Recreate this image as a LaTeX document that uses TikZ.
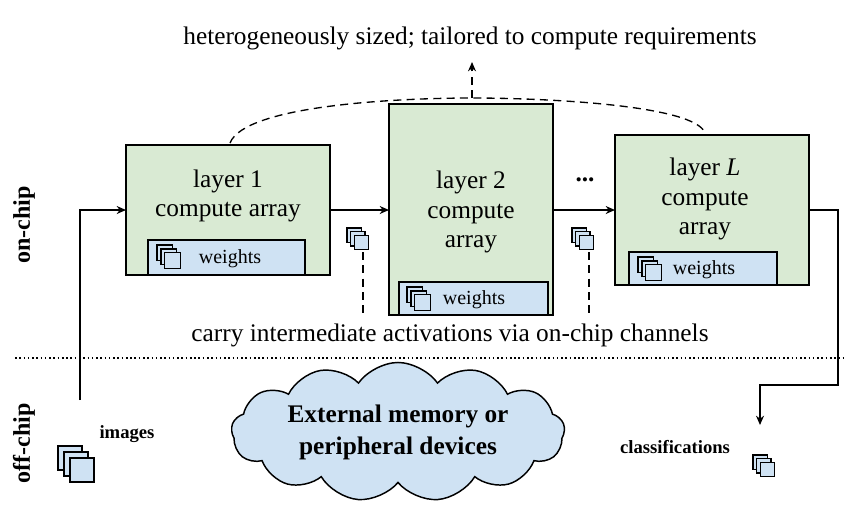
\documentclass[tikz,border=0pt]{standalone}
\usepackage{fontspec}
\setmainfont{Liberation Serif}
\usetikzlibrary{shapes.symbols,arrows.meta}
\definecolor{gfill}{HTML}{D9EAD3}
\definecolor{bfill}{HTML}{CFE2F3}
\begin{document}
\begin{tikzpicture}[x=0.75pt,y=-0.75pt,
  layer/.style={draw,line width=1.1pt,fill=gfill},
  wbox/.style={draw,line width=1.1pt,fill=bfill},
  lab/.style={font=\fontsize{19}{22}\selectfont,align=center},
  wl/.style={font=\fontsize{15}{17}\selectfont},
  dsh/.style={dash pattern=on 6pt off 4pt,line width=1pt},
  arr/.style={line width=1pt,-{Stealth[length=7pt,width=6pt]}},
  stack/.pic={\foreach \d in {0,3,6}{\draw[fill=bfill,line width=0.9pt] (\d*#1,\d*#1) rectangle ++(12*#1,12*#1);}}]
\useasboundingbox (0,0) rectangle (862,512);
% top text
\node[lab] (top) at (470,38) {heterogeneously sized; tailored to compute requirements};
% boxes
\draw[layer] (126,145) rectangle (330,275);
\node[lab] (t1) at (228,196) {layer 1\\compute array};
\draw[wbox] (148,240) rectangle (305,275);
\pic at (157,245) {stack=1.3};
\node[wl] (w1) at (230,259) {weights};
\draw[layer] (389,104) rectangle (553,315);
\node[lab] (t2) at (471,212) {layer 2\\compute\\array};
\draw[wbox] (399,282) rectangle (548,315);
\pic at (407,287) {stack=1.3};
\node[wl] (w2) at (474,300) {weights};
\draw[layer] (615,135) rectangle (809,285);
\node[lab] (t3) at (705,199) {layer \textit{L}\\compute\\array};
\draw[wbox] (629,252) rectangle (777,285);
\pic at (638,257) {stack=1.3};
\node[wl] (w3) at (704,270) {weights};
\node[font=\bfseries\fontsize{19}{20}\selectfont] (dots) at (585,180) {...};
% connectors
\coordinate (in0) at (80,400); \coordinate (in1) at (80,210);
\draw[arr] (in0) -- (in1) -- (126,210);
\draw[arr] (330,210) -- (389,210);
\draw[arr] (553,210) -- (615,210);
\coordinate (o1) at (838,210); \coordinate (o2) at (838,385); \coordinate (o3) at (760,385); \coordinate (o4) at (760,425);
\draw[arr] (809,210) -- (o1) -- (o2) -- (o3) -- (o4);
% activation icons
\pic at (347,228) {stack=1.2};
\pic at (572,228) {stack=1.2};
\draw[dsh] (363,252) -- (363,315);
\draw[dsh] (589,252) -- (589,315);
\node[lab] (carry) at (450,335) {carry intermediate activations via on-chip channels};
% dashed curve
\draw[dsh] (230,143) .. controls (245,105) and (400,98) .. (472,98) .. controls (545,98) and (695,105) .. (705,133);
\draw[dsh,-{Stealth[length=7pt,width=6pt]}] (472,98) -- (472,62);
% separator
\draw[dotted,line width=1.2pt] (15,358) -- (845,358);
\node[rotate=90,font=\bfseries\fontsize{18}{20}\selectfont] (on) at (24,225) {on-chip};
\node[rotate=90,font=\bfseries\fontsize{18}{20}\selectfont] (off) at (24,443) {off-chip};
% images
\pic at (58,446) {stack=2};
\node[font=\bfseries\fontsize{14}{16}\selectfont] (img) at (127,434) {images};
% cloud
\node[cloud,cloud puffs=13,cloud puff arc=110,aspect=3.2,draw,line width=1.1pt,fill=bfill,minimum width=250,minimum height=72,align=center,font=\bfseries\fontsize{19}{24}\selectfont] (cl) at (398,432) {External memory or\\peripheral devices};
\node[font=\bfseries\fontsize{14}{16}\selectfont] (cls) at (675,447) {classifications};
\pic at (753,455) {stack=1.2};
\end{tikzpicture}
\end{document}
